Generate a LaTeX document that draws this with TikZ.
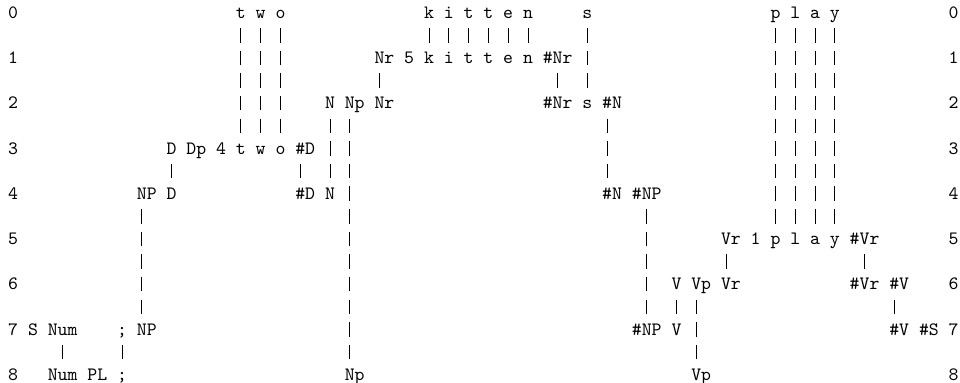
\documentclass[tikz,border=0pt]{standalone}
\usepackage{fontspec}

\tikzset{
  tok/.style={anchor=base west, inner sep=0pt, font=\ttfamily},
  bar/.style={line width=0.5pt, dash pattern=on 7.7pt off 4.3pt},
}
% vertical run of | marks between two tokens of the same column
\newcommand{\link}[3][0]{\draw[bar] ([xshift=#1*5.25pt,yshift=-5.1pt]#2.base) -- ([xshift=#1*5.25pt,yshift=11.2pt]#3.base);}

\begin{document}
\begin{tikzpicture}[x=5.25pt, y=-12pt]
        \useasboundingbox (-0.793,-0.815) rectangle (96.177,16.095);

        % row numbers
        \node[tok] (l0) at (0,0) {0};   \node[tok] (r0) at (95,0) {0};
        \node[tok] (l1) at (0,2) {1};   \node[tok] (r1) at (95,2) {1};
        \node[tok] (l2) at (0,4) {2};   \node[tok] (r2) at (95,4) {2};
        \node[tok] (l3) at (0,6) {3};   \node[tok] (r3) at (95,6) {3};
        \node[tok] (l4) at (0,8) {4};   \node[tok] (r4) at (95,8) {4};
        \node[tok] (l5) at (0,10) {5};  \node[tok] (r5) at (95,10) {5};
        \node[tok] (l6) at (0,12) {6};  \node[tok] (r6) at (95,12) {6};
        \node[tok] (l7) at (0,14) {7};  \node[tok] (r7) at (95,14) {7};
        \node[tok] (l8) at (0,16) {8};  \node[tok] (r8) at (95,16) {8};

        % row 0
        \node[tok] (twoT0) at (23,0) {t};
        \node[tok] (twoW0) at (25,0) {w};
        \node[tok] (twoO0) at (27,0) {o};
        \node[tok] (kitK0) at (42,0) {k};
        \node[tok] (kitI0) at (44,0) {i};
        \node[tok] (kitT0) at (46,0) {t};
        \node[tok] (kitTb0) at (48,0) {t};
        \node[tok] (kitE0) at (50,0) {e};
        \node[tok] (kitN0) at (52,0) {n};
        \node[tok] (s0) at (58,0) {s};
        \node[tok] (playP0) at (77,0) {p};
        \node[tok] (playL0) at (79,0) {l};
        \node[tok] (playA0) at (81,0) {a};
        \node[tok] (playY0) at (83,0) {y};

        % row 1
        \node[tok] (Nr1) at (37,2) {Nr};
        \node[tok] (five1) at (40,2) {5};
        \node[tok] (kitK1) at (42,2) {k};
        \node[tok] (kitI1) at (44,2) {i};
        \node[tok] (kitT1) at (46,2) {t};
        \node[tok] (kitTb1) at (48,2) {t};
        \node[tok] (kitE1) at (50,2) {e};
        \node[tok] (kitN1) at (52,2) {n};
        \node[tok] (hNr1) at (54,2) {\#Nr};

        % row 2
        \node[tok] (N2) at (32,4) {N};
        \node[tok] (Np2) at (34,4) {Np};
        \node[tok] (Nr2) at (37,4) {Nr};
        \node[tok] (hNr2) at (54,4) {\#Nr};
        \node[tok] (s2) at (58,4) {s};
        \node[tok] (hN2) at (60,4) {\#N};

        % row 3
        \node[tok] (D3) at (16,6) {D};
        \node[tok] (Dp3) at (18,6) {Dp};
        \node[tok] (four3) at (21,6) {4};
        \node[tok] (twoT3) at (23,6) {t};
        \node[tok] (twoW3) at (25,6) {w};
        \node[tok] (twoO3) at (27,6) {o};
        \node[tok] (hD3) at (29,6) {\#D};

        % row 4
        \node[tok] (NP4) at (13,8) {NP};
        \node[tok] (D4) at (16,8) {D};
        \node[tok] (hD4) at (29,8) {\#D};
        \node[tok] (N4) at (32,8) {N};
        \node[tok] (hN4) at (60,8) {\#N};
        \node[tok] (hNP4) at (63,8) {\#NP};

        % row 5
        \node[tok] (Vr5) at (72,10) {Vr};
        \node[tok] (one5) at (75,10) {1};
        \node[tok] (playP5) at (77,10) {p};
        \node[tok] (playL5) at (79,10) {l};
        \node[tok] (playA5) at (81,10) {a};
        \node[tok] (playY5) at (83,10) {y};
        \node[tok] (hVr5) at (85,10) {\#Vr};

        % row 6
        \node[tok] (V6) at (67,12) {V};
        \node[tok] (Vp6) at (69,12) {Vp};
        \node[tok] (Vr6) at (72,12) {Vr};
        \node[tok] (hVr6) at (85,12) {\#Vr};
        \node[tok] (hV6) at (89,12) {\#V};

        % row 7
        \node[tok] (S7) at (2,14) {S};
        \node[tok] (Num7) at (4,14) {Num};
        \node[tok] (semi7) at (11,14) {;};
        \node[tok] (NP7) at (13,14) {NP};
        \node[tok] (hNP7) at (63,14) {\#NP};
        \node[tok] (V7) at (67,14) {V};
        \node[tok] (hV7) at (89,14) {\#V};
        \node[tok] (hS7) at (92,14) {\#S};

        % row 8
        \node[tok] (Num8) at (4,16) {Num};
        \node[tok] (PL8) at (8,16) {PL};
        \node[tok] (semi8) at (11,16) {;};
        \node[tok] (Np8) at (34,16) {Np};
        \node[tok] (Vp8) at (69,16) {Vp};

        % bars
        \link{twoT0}{twoT3}
        \link{twoW0}{twoW3}
        \link{twoO0}{twoO3}
        \link{kitK0}{kitK1}
        \link{kitI0}{kitI1}
        \link{kitT0}{kitT1}
        \link{kitTb0}{kitTb1}
        \link{kitE0}{kitE1}
        \link{kitN0}{kitN1}
        \link{s0}{s2}
        \link{playP0}{playP5}
        \link{playL0}{playL5}
        \link{playA0}{playA5}
        \link{playY0}{playY5}
        \link[-0.5]{Nr1}{Nr2}
        \link{hNr1}{hNr2}
        \link{N2}{N4}
        \link[-0.5]{Np2}{Np8}
        \link[-0.5]{hN2}{hN4}
        \link{D3}{D4}
        \link[-0.5]{hD3}{hD4}
        \link[-0.5]{NP4}{NP7}
        \link{hNP4}{hNP7}
        \link[-0.5]{Vr5}{Vr6}
        \link{hVr5}{hVr6}
        \link{V6}{V7}
        \link[-0.5]{Vp6}{Vp8}
        \link[-0.5]{hV6}{hV7}
        \link{Num7}{Num8}
        \link{semi7}{semi8}

\end{tikzpicture}
\end{document}
